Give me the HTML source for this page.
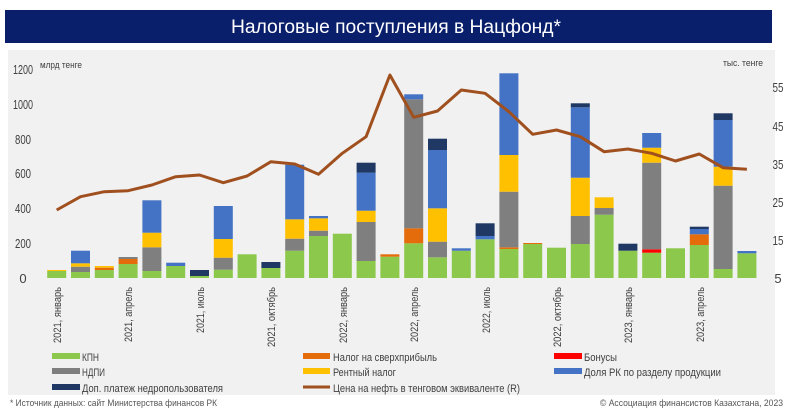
<!DOCTYPE html>
<html><head><meta charset="utf-8"><style>
body{margin:0;width:800px;height:415px;background:#fff;overflow:hidden;font-family:"Liberation Sans",sans-serif;}
svg text{font-family:"Liberation Sans",sans-serif;}
</style></head><body>
<svg id="s" width="800" height="415" xmlns="http://www.w3.org/2000/svg">
<rect x="0" y="0" width="800" height="415" fill="#fff"/>
<rect x="5" y="10" width="767" height="33" fill="#0a1f6b"/>
<text x="231" y="33" fill="#fff" font-size="19" textLength="330" lengthAdjust="spacingAndGlyphs">Налоговые поступления в Нацфонд*</text>
<rect x="8" y="50" width="767" height="345" fill="#f1f1f1"/>
<g fill="#404040" font-size="13" text-anchor="middle" lengthAdjust="spacingAndGlyphs">
<text x="23" y="283">0</text><text x="23" y="248" textLength="16" lengthAdjust="spacingAndGlyphs">200</text><text x="23" y="213" textLength="16" lengthAdjust="spacingAndGlyphs">400</text><text x="23" y="178" textLength="16" lengthAdjust="spacingAndGlyphs">600</text><text x="23" y="144" textLength="16" lengthAdjust="spacingAndGlyphs">800</text><text x="23" y="109" textLength="20" lengthAdjust="spacingAndGlyphs">1000</text><text x="23" y="74" textLength="20" lengthAdjust="spacingAndGlyphs">1200</text>
<text x="778" y="283">5</text><text x="778" y="245" textLength="11" lengthAdjust="spacingAndGlyphs">15</text><text x="778" y="207" textLength="11" lengthAdjust="spacingAndGlyphs">25</text><text x="778" y="169" textLength="11" lengthAdjust="spacingAndGlyphs">35</text><text x="778" y="131" textLength="11" lengthAdjust="spacingAndGlyphs">45</text><text x="778" y="92" textLength="11" lengthAdjust="spacingAndGlyphs">55</text>
</g>
<text x="40" y="68" font-size="9" fill="#404040" textLength="42" lengthAdjust="spacingAndGlyphs">млрд тенге</text>
<text x="723" y="66" font-size="9" fill="#404040" textLength="40" lengthAdjust="spacingAndGlyphs">тыс. тенге</text>
<g id="bars"></g>
<polyline id="ln" fill="none" stroke="#a0501e" stroke-width="3" stroke-linejoin="round"/>
<g font-size="11" fill="#404040" text-anchor="end">
<text transform="translate(61,287) rotate(-90)" textLength="56" lengthAdjust="spacingAndGlyphs">2021, январь</text>
<text transform="translate(132,287) rotate(-90)" textLength="55" lengthAdjust="spacingAndGlyphs">2021, апрель</text>
<text transform="translate(204,287) rotate(-90)" textLength="46" lengthAdjust="spacingAndGlyphs">2021, июль</text>
<text transform="translate(275,287) rotate(-90)" textLength="60" lengthAdjust="spacingAndGlyphs">2021, октябрь</text>
<text transform="translate(347,287) rotate(-90)" textLength="56" lengthAdjust="spacingAndGlyphs">2022, январь</text>
<text transform="translate(418,287) rotate(-90)" textLength="55" lengthAdjust="spacingAndGlyphs">2022, апрель</text>
<text transform="translate(490,287) rotate(-90)" textLength="46" lengthAdjust="spacingAndGlyphs">2022, июль</text>
<text transform="translate(561,287) rotate(-90)" textLength="60" lengthAdjust="spacingAndGlyphs">2022, октябрь</text>
<text transform="translate(632,287) rotate(-90)" textLength="56" lengthAdjust="spacingAndGlyphs">2023, январь</text>
<text transform="translate(704,287) rotate(-90)" textLength="55" lengthAdjust="spacingAndGlyphs">2023, апрель</text>
</g>
<g font-size="11" fill="#404040">
<rect x="52" y="353" width="28" height="6" fill="#8cc84b"/><text x="82" y="361" textLength="17" lengthAdjust="spacingAndGlyphs">КПН</text>
<rect x="52" y="368" width="28" height="6" fill="#7f7f7f"/><text x="82" y="376" textLength="23" lengthAdjust="spacingAndGlyphs">НДПИ</text>
<rect x="52" y="384" width="28" height="6" fill="#1f3864"/><text x="82" y="392" textLength="141" lengthAdjust="spacingAndGlyphs">Доп. платеж недропользователя</text>
<rect x="303" y="353" width="27" height="6" fill="#e46c0a"/><text x="333" y="361" textLength="104" lengthAdjust="spacingAndGlyphs">Налог на сверхприбыль</text>
<rect x="303" y="368" width="27" height="6" fill="#ffc000"/><text x="333" y="376" textLength="63" lengthAdjust="spacingAndGlyphs">Рентный налог</text>
<line x1="303" y1="387" x2="330" y2="387" stroke="#a0501e" stroke-width="3"/><text x="333" y="392" textLength="187" lengthAdjust="spacingAndGlyphs">Цена на нефть в тенговом эквиваленте (R)</text>
<rect x="554" y="353" width="28" height="6" fill="#ff0000"/><text x="584" y="361" textLength="33" lengthAdjust="spacingAndGlyphs">Бонусы</text>
<rect x="554" y="368" width="28" height="6" fill="#4472c4"/><text x="584" y="376" textLength="137" lengthAdjust="spacingAndGlyphs">Доля РК по разделу продукции</text>
</g>
<text x="10" y="406" font-size="9.5" fill="#555" textLength="207" lengthAdjust="spacingAndGlyphs">* Источник данных: сайт Министерства финансов РК</text>
<text x="600" y="406" font-size="9.5" fill="#555" textLength="183" lengthAdjust="spacingAndGlyphs">© Ассоциация финансистов Казахстана, 2023</text>
</svg>
<script>
var C={G:"#8cc84b",D:"#7f7f7f",Y:"#ffc000",B:"#4472c4",N:"#1f3864",O:"#e46c0a",R:"#ff0000"};
var d=[
"G271 Y270","G272 D266.7 Y263.3 B250.7","G270 O267.7 Y266","G264 O259 D257","G271 D247.3 Y232.7 B200.3",
"G266 B262.7","G276 N270","G269.7 D257.7 Y239 B206","G254.3","G268 N262",
"G250.7 D238.7 Y219.3 B164.7","G236 D230.7 Y218.3 B216","G233.7","G261 D222 Y210.7 B172.7 N162.7","G256.7 O254.3",
"G243.3 O228.3 D99.3 B94.3","G257.3 D241.7 Y208.3 B150 N138.7","G250.7 B248.3","G239.3 B236 N223.3","G249 O247.3 D191.7 Y155 B73.3",
"G244 O243","G247.7","G244 D216 Y177.7 B107.3 N103.3","G214.7 D208 Y197.3","G250.7 N243.7",
"G252.7 R249.3 D162.7 Y147.7 B133","G248.3","G245 O234.3 B229 N226.7","G269 D185.7 Y166.7 B120 N113.3","G253.3 B251"];
var L=[210,196.7,191.7,190.7,185,176.7,175,182.7,176,161.7,164,174.3,153.3,136.7,75,117.3,111,90,93.3,111.7,134.3,130,136.7,151.7,149,153.3,161,154,167.7,169.3];
var g=document.getElementById("bars"),ns="http://www.w3.org/2000/svg",pts=[];
d.forEach(function(s,k){var cx=56.7+23.8*k,prev=278;s.split(" ").forEach(function(t){var y=parseFloat(t.slice(1));var r=document.createElementNS(ns,"rect");r.setAttribute("x",cx-9.5);r.setAttribute("width",19);r.setAttribute("y",y);r.setAttribute("height",Math.max(prev-y,0));r.setAttribute("fill",C[t[0]]);g.appendChild(r);prev=y;});pts.push(cx+","+L[k]);});
document.getElementById("ln").setAttribute("points",pts.join(" "));
</script>
</body></html>
